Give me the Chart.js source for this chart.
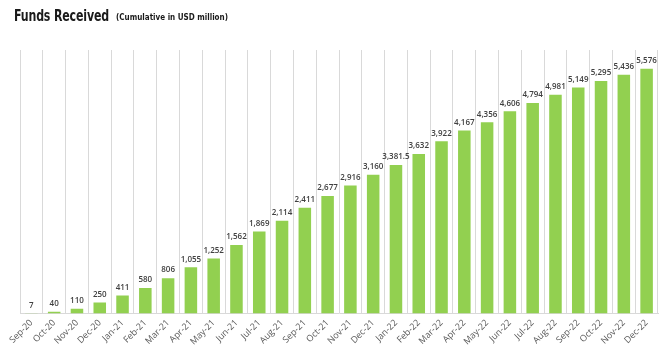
<!DOCTYPE html>
<html>
<head>
<meta charset="utf-8">
<script src="https://cdn.jsdelivr.net/npm/chart.js@4/dist/chart.umd.min.js"></script>
<style>
  html, body { margin: 0; padding: 0; background: #ffffff; }
  #wrap { position: relative; width: 669px; height: 361px; }
  .t { position: absolute; white-space: nowrap; color: #1a1a1a; transform-origin: 0 0; font-family: "DejaVu Sans Condensed", "DejaVu Sans", sans-serif; font-weight: bold; }
  #tmain { left: 14px; top: 6px; font-size: 16px; letter-spacing: -0.2px; }
  #tsub { left: 116px; top: 12px; font-size: 9px; }
  canvas { position: absolute; left: 0; top: 0; }
</style>
</head>
<body>
<div id="wrap">
  <canvas id="c" width="669" height="361"></canvas>
  <div class="t" id="tmain">Funds Received</div>
  <div class="t" id="tsub">(Cumulative in USD million)</div>
</div>
<script>
const categories = ["Sep-20","Oct-20","Nov-20","Dec-20","Jan-21","Feb-21","Mar-21","Apr-21","May-21","Jun-21","Jul-21","Aug-21","Sep-21","Oct-21","Nov-21","Dec-21","Jan-22","Feb-22","Mar-22","Apr-22","May-22","Jun-22","Jul-22","Aug-22","Sep-22","Oct-22","Nov-22","Dec-22"];
const fundsReceived = [7,40,110,250,411,580,806,1055,1252,1562,1869,2114,2411,2677,2916,3160,3381.5,3632,3922,4167,4356,4606,4794,4981,5149,5295,5436,5576];
const yMax = 6000;

function fitWidth(id, target) {
  const el = document.getElementById(id);
  const w = el.getBoundingClientRect().width;
  if (w > 0) el.style.transform = 'scaleX(' + (target / w) + ')';
}
fitWidth('tmain', 95);
fitWidth('tsub', 112);

const valueLabels = {
  id: 'valueLabels',
  afterDatasetsDraw(chart) {
    const ctx = chart.ctx;
    const meta = chart.getDatasetMeta(0);
    ctx.save();
    ctx.font = '600 8px "Open Sans", sans-serif';
    ctx.fillStyle = '#404040';
    ctx.textAlign = 'center';
    ctx.textBaseline = 'bottom';
    meta.data.forEach((bar, i) => {
      const v = chart.data.datasets[0].data[i];
      const txt = v.toLocaleString('en-US', {maximumFractionDigits: 1});
      ctx.fillText(txt, bar.x, bar.y - 4);
    });
    ctx.restore();
  }
};

new Chart(document.getElementById('c'), {
  type: 'bar',
  data: {
    labels: categories,
    datasets: [{
      data: fundsReceived,
      backgroundColor: '#92d050',
      borderWidth: 0,
      barPercentage: 0.55,
      categoryPercentage: 1.0
    }]
  },
  options: {
    responsive: false,
    animation: false,
    layout: { padding: { left: 20, right: 11, top: 50, bottom: 10 } },
    plugins: { legend: { display: false }, tooltip: { enabled: false }, title: { display: false } },
    scales: {
      x: {
        offset: true,
        grid: { display: true, offset: true, color: '#d9d9d9', lineWidth: 1, drawTicks: false },
        border: { display: true, color: '#d9d9d9' },
        ticks: {
          minRotation: 45, maxRotation: 45, autoSkip: false,
          padding: 4,
          color: '#595959',
          font: { family: '"Open Sans", sans-serif', size: 9 }
        }
      },
      y: {
        display: false,
        min: 0, max: yMax,
        grid: { display: false }
      }
    }
  },
  plugins: [valueLabels]
});
</script>
</body>
</html>
